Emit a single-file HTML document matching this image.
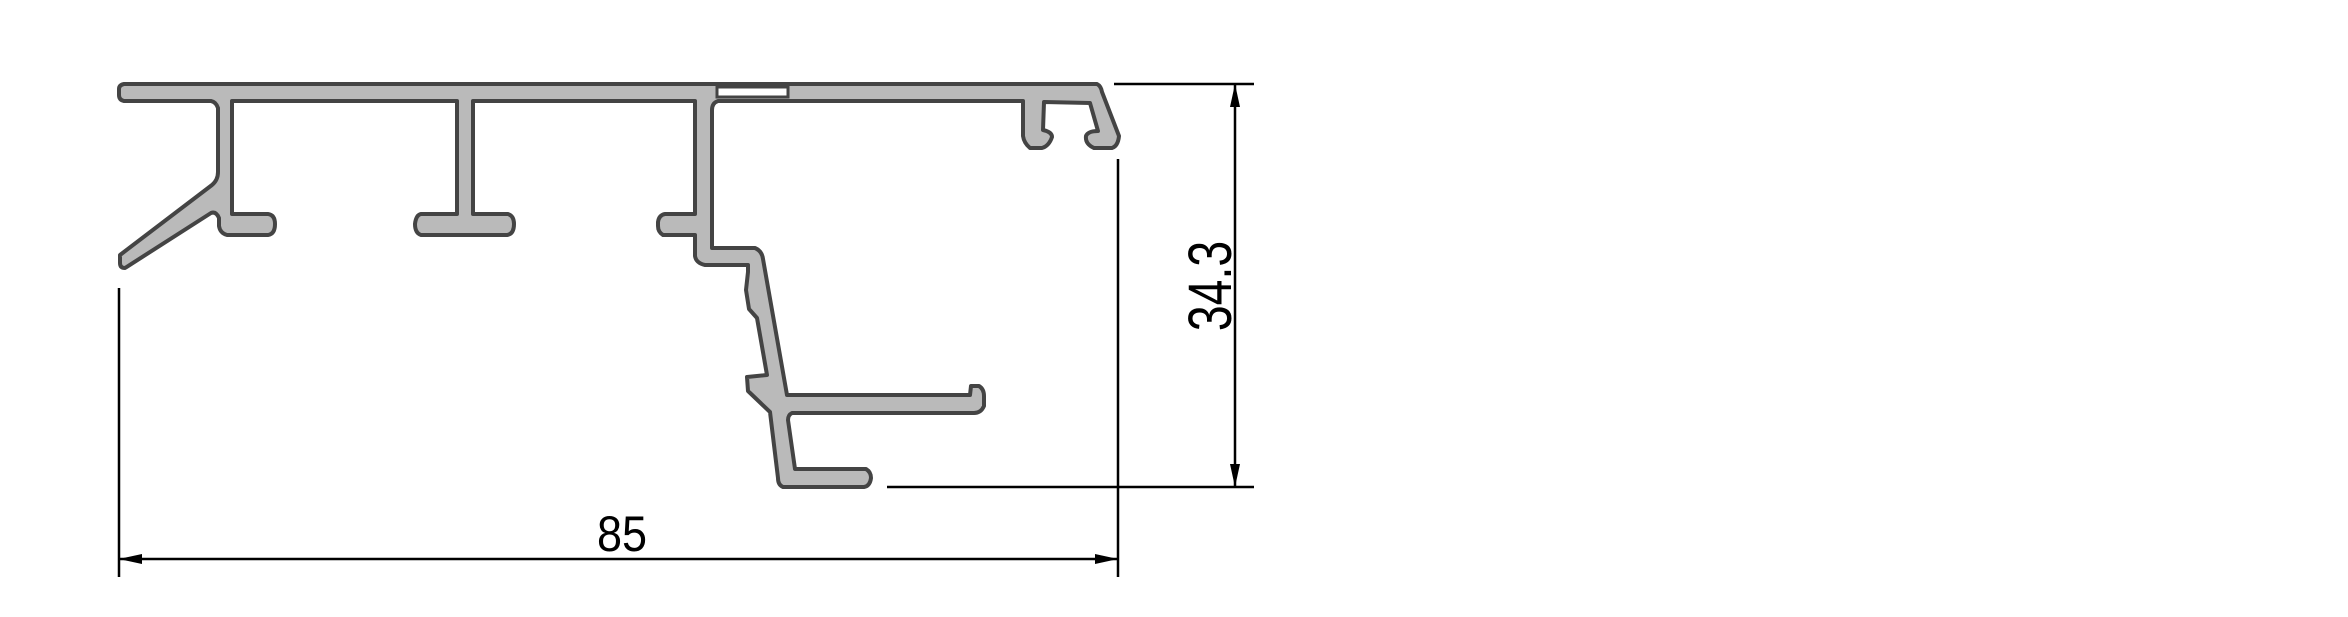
<!DOCTYPE html>
<html><head><meta charset="utf-8"><style>
html,body{margin:0;padding:0;background:#fff;width:2348px;height:617px;overflow:hidden}
svg{display:block}
</style></head><body>
<svg width="2348" height="617" viewBox="0 0 2348 617" xmlns="http://www.w3.org/2000/svg">
<path fill="#bababa" stroke="#444" stroke-width="4" stroke-linejoin="round" d="
M124,84 L1097,84 Q1101,86 1102,92 L1119,136 Q1118,146 1112,148 L1094,148 Q1085,144 1086,136 Q1088,131 1098,131 L1090,103 L1044,102 L1043,130 Q1052,132 1052,137 Q1049,146 1042,148 L1030,148 Q1024,143 1023,136 L1023,101
L718,101 Q712,103 712,110 L712,248 L755,248 Q762,251 763,259 L787,395 L970,395 L971,386 L979,386 Q984,389 984,396 L984,406 Q981,413 974,413 L792,413 Q788,415 788,420 L795,469 L866,469 Q871,472 871,478 Q870,486 864,487 L783,487 Q778,485 778,478 L770,412 L748,391 L747,377 L767,375 L757,318 L749,309 L746,290 L748,272 L748,265 L705,265 Q696,263 695,256 L695,235 L663,235 Q658,232 658,226 L658,222 Q659,215 665,214 L695,214 L695,101
L473,101 L473,214 L508,214 Q514,216 514,224 Q514,234 507,235 L421,235 Q415,233 415,224 Q416,215 421,214 L457,214 L457,101
L232,101 L232,214 L268,214 Q275,215 275,224 Q275,234 268,235 L227,235 Q220,233 219,226 L219,218 Q216,211 211,213 L125,268 Q120,268 120,263 L120,255 L212,185 Q218,180 218,172 L218,108 Q216,102 211,101 L124,101 Q119,100 119,95 L119,89 Q119,85 124,84 Z"/>
<rect x="717" y="87" width="71" height="10" fill="#fff" stroke="#444" stroke-width="3"/>
<g stroke="#000" stroke-width="2.5" fill="none">
<line x1="119" y1="288" x2="119" y2="577"/>
<line x1="1118" y1="159" x2="1118" y2="577"/>
<line x1="119" y1="559" x2="1118" y2="559"/>
<line x1="1114" y1="84" x2="1254" y2="84"/>
<line x1="887" y1="487" x2="1254" y2="487"/>
<line x1="1235" y1="84" x2="1235" y2="487"/>
</g>
<g fill="#000">
<polygon points="119,559 142,554 142,564"/>
<polygon points="1118,559 1095,554 1095,564"/>
<polygon points="1235,84 1230,107 1240,107"/>
<polygon points="1235,487 1230,464 1240,464"/>
</g>
<text transform="translate(622,551) scale(0.9,1)" x="0" y="0" text-anchor="middle" font-family="Liberation Sans, sans-serif" font-size="50" fill="#000">85</text>
<text transform="translate(1231,286) rotate(-90) scale(0.76,1)" x="0" y="0" text-anchor="middle" font-family="Liberation Sans, sans-serif" font-size="61" fill="#000">34.3</text>
</svg>
</body></html>
